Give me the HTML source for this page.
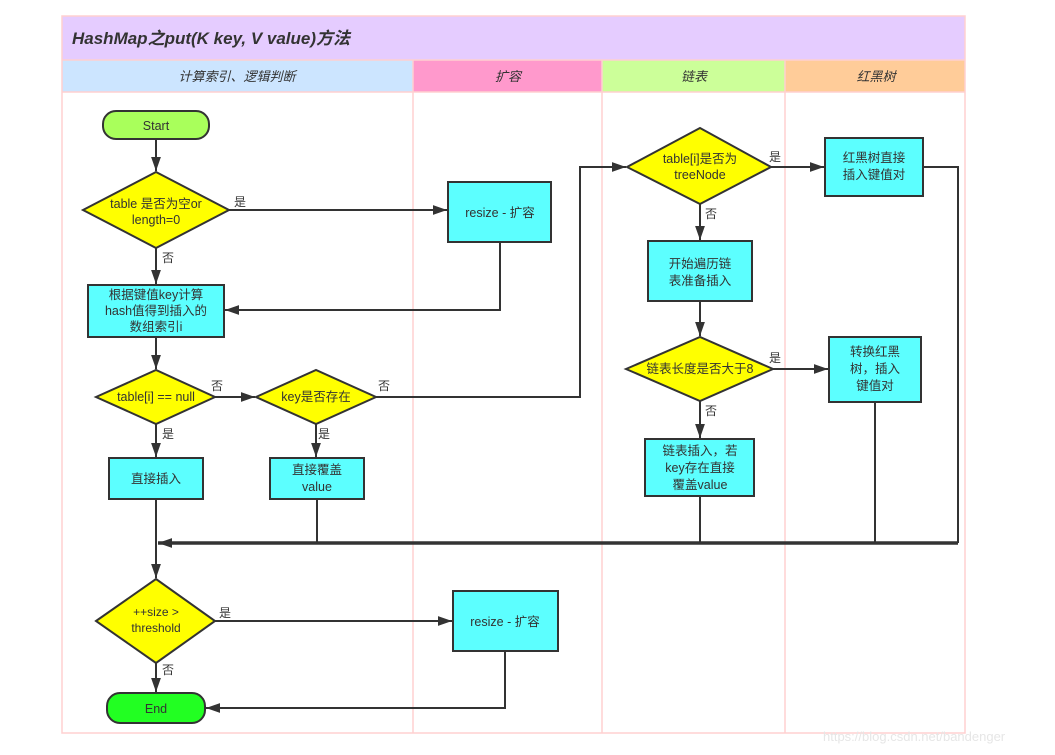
<!DOCTYPE html>
<html><head><meta charset="utf-8"><style>
html,body{margin:0;padding:0;background:#fff;}
svg{display:block;font-family:"Liberation Sans","Noto Sans CJK SC",sans-serif;}
</style></head><body>
<svg width="1055" height="755" viewBox="0 0 1055 755" xmlns="http://www.w3.org/2000/svg">
<defs>
<marker id="a" viewBox="0 0 10 10" refX="10" refY="5" markerWidth="5.5" markerHeight="5.5" orient="auto" markerUnits="userSpaceOnUse" >
<path d="M0,0 L10,5 L0,10 z" fill="#333"/></marker>
<marker id="b" viewBox="0 0 10 10" refX="10" refY="5" markerWidth="14" markerHeight="14" orient="auto" markerUnits="userSpaceOnUse">
<path d="M0,1.5 L10,5 L0,8.5 z" fill="#333"/></marker>
</defs>
<!-- frame -->
<rect x="62" y="16" width="903" height="44" fill="#e5ccff"/>
<rect x="62" y="60" width="351" height="32" fill="#cce5ff"/>
<rect x="413" y="60" width="189" height="32" fill="#ff99cc"/>
<rect x="602" y="60" width="183" height="32" fill="#ccff99"/>
<rect x="785" y="60" width="180" height="32" fill="#ffcc99"/>
<g stroke="#ffd0d0" stroke-width="1.5" fill="none">
<rect x="62" y="16" width="903" height="717"/>
<line x1="62" y1="60" x2="965" y2="60"/>
<line x1="62" y1="92" x2="965" y2="92"/>
<line x1="413" y1="60" x2="413" y2="733"/>
<line x1="602" y1="60" x2="602" y2="733"/>
<line x1="785" y1="60" x2="785" y2="733"/>
</g>
<text x="72" y="44" font-size="17" font-weight="bold" font-style="italic" fill="#333">HashMap之put(K key, V value)方法</text>
<g font-size="13" font-style="italic" fill="#333" text-anchor="middle">
<text x="237" y="81">计算索引、逻辑判断</text>
<text x="508" y="81">扩容</text>
<text x="694" y="81">链表</text>
<text x="876" y="81">红黑树</text>
</g>
<!-- connectors -->
<g stroke="#333" stroke-width="2" fill="none">
<line x1="156" y1="139" x2="156" y2="171" marker-end="url(#b)"/>
<line x1="229" y1="210" x2="447" y2="210" marker-end="url(#b)"/>
<line x1="156" y1="248" x2="156" y2="284" marker-end="url(#b)"/>
<polyline points="500,242 500,310 225,310" marker-end="url(#b)"/>
<line x1="156" y1="337" x2="156" y2="369" marker-end="url(#b)"/>
<line x1="215" y1="397" x2="255" y2="397" marker-end="url(#b)"/>
<polyline points="376,397 580,397 580,167 626,167" marker-end="url(#b)"/>
<line x1="156" y1="424" x2="156" y2="457" marker-end="url(#b)"/>
<line x1="316" y1="424" x2="316" y2="457" marker-end="url(#b)"/>
<line x1="771" y1="167" x2="824" y2="167" marker-end="url(#b)"/>
<line x1="700" y1="204" x2="700" y2="240" marker-end="url(#b)"/>
<line x1="700" y1="301" x2="700" y2="336" marker-end="url(#b)"/>
<line x1="773" y1="369" x2="828" y2="369" marker-end="url(#b)"/>
<line x1="700" y1="401" x2="700" y2="438" marker-end="url(#b)"/>
<polyline points="923,167 958,167 958,543"/>
<line x1="875" y1="402" x2="875" y2="543"/>
<line x1="700" y1="496" x2="700" y2="543"/>
<line x1="317" y1="499" x2="317" y2="543"/>
<line x1="156" y1="499" x2="156" y2="578" marker-end="url(#b)"/>
<line x1="215" y1="621" x2="452" y2="621" marker-end="url(#b)"/>
<line x1="156" y1="663" x2="156" y2="692" marker-end="url(#b)"/>
<polyline points="505,651 505,708 206,708" marker-end="url(#b)"/>
</g>
<line x1="958" y1="543" x2="158" y2="543" stroke="#333" stroke-width="3.5" marker-end="url(#b)"/>
<!-- shapes -->
<g stroke="#333" stroke-width="2">
<rect x="103" y="111" width="106" height="28" rx="13" fill="#a9ff5b"/>
<polygon points="83,210 156,172 229,210 156,248" fill="#ffff00"/>
<rect x="448" y="182" width="103" height="60" fill="#5cffff"/>
<rect x="88" y="285" width="136" height="52" fill="#5cffff"/>
<polygon points="96,397 156,370 215,397 156,424" fill="#ffff00"/>
<polygon points="256,397 316,370 376,397 316,424" fill="#ffff00"/>
<rect x="109" y="458" width="94" height="41" fill="#5cffff"/>
<rect x="270" y="458" width="94" height="41" fill="#5cffff"/>
<polygon points="96,621 156,579 215,621 156,663" fill="#ffff00"/>
<rect x="453" y="591" width="105" height="60" fill="#5cffff"/>
<rect x="107" y="693" width="98" height="30" rx="13" fill="#22ff22"/>
<polygon points="627,167 700,128 771,167 700,204" fill="#ffff00"/>
<rect x="648" y="241" width="104" height="60" fill="#5cffff"/>
<polygon points="626,369 700,337 773,369 700,401" fill="#ffff00"/>
<rect x="645" y="439" width="109" height="57" fill="#5cffff"/>
<rect x="825" y="138" width="98" height="58" fill="#5cffff"/>
<rect x="829" y="337" width="92" height="65" fill="#5cffff"/>
</g>
<!-- labels -->
<g font-size="12.5" fill="#333" text-anchor="middle">
<text x="156" y="130">Start</text>
<text x="156" y="208">table 是否为空or</text>
<text x="156" y="224">length=0</text>
<text x="500" y="217">resize - 扩容</text>
<text x="156" y="299">根据键值key计算</text>
<text x="156" y="315">hash值得到插入的</text>
<text x="156" y="331">数组索引i</text>
<text x="156" y="401">table[i] == null</text>
<text x="316" y="401">key是否存在</text>
<text x="156" y="483">直接插入</text>
<text x="317" y="474">直接覆盖</text>
<text x="317" y="491">value</text>
<text x="156" y="616" font-size="12">++size &gt;</text>
<text x="156" y="632" font-size="12">threshold</text>
<text x="505" y="626">resize - 扩容</text>
<text x="156" y="713">End</text>
<text x="700" y="163">table[i]是否为</text>
<text x="700" y="179">treeNode</text>
<text x="700" y="268">开始遍历链</text>
<text x="700" y="285">表准备插入</text>
<text x="700" y="373">链表长度是否大于8</text>
<text x="700" y="455">链表插入，若</text>
<text x="700" y="472">key存在直接</text>
<text x="700" y="489">覆盖value</text>
<text x="874" y="162">红黑树直接</text>
<text x="874" y="179">插入键值对</text>
<text x="875" y="356">转换红黑</text>
<text x="875" y="373">树，插入</text>
<text x="875" y="390">键值对</text>
</g>
<g font-size="12" fill="#333">
<text x="234" y="206">是</text>
<text x="162" y="262">否</text>
<text x="211" y="390">否</text>
<text x="378" y="390">否</text>
<text x="162" y="438">是</text>
<text x="318" y="438">是</text>
<text x="219" y="617">是</text>
<text x="162" y="674">否</text>
<text x="769" y="161">是</text>
<text x="705" y="218">否</text>
<text x="769" y="362">是</text>
<text x="705" y="415">否</text>
</g>
<text x="823" y="741" font-size="13" fill="#e6e6e6">https://blog.csdn.net/bandenger</text>
</svg>
</body></html>
